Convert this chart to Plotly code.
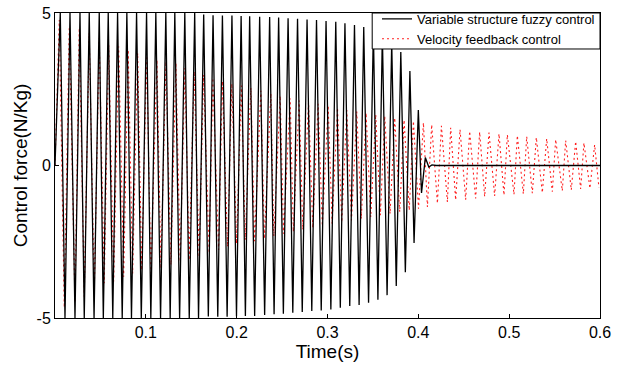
import plotly.graph_objects as go

# ---- Variable structure fuzzy control (black): peak times / values
fuzzy_up_t = [0.0058, 0.0165, 0.0275, 0.0377, 0.0487, 0.0586, 0.0689, 0.0791, 0.0898, 0.1008,
              0.1110, 0.1220, 0.1319, 0.1429, 0.1538, 0.1637, 0.1740, 0.1843, 0.1948, 0.2049,
              0.2143, 0.2253, 0.2363, 0.2462, 0.2566, 0.2670, 0.2775, 0.2879, 0.2984, 0.3091,
              0.3192, 0.3297, 0.3399, 0.3505, 0.3604, 0.3707, 0.3807, 0.3907, 0.4000, 0.4077]
fuzzy_up_v = [5.0, 5.0, 5.0, 5.0, 5.0, 5.0, 5.0, 5.0, 5.0, 5.0,
              5.0, 5.0, 5.0, 5.0, 5.0, 4.95, 4.93, 4.92, 4.92, 4.90,
              4.89, 4.88, 4.87, 4.85, 4.83, 4.81, 4.79, 4.77, 4.74, 4.71,
              4.66, 4.61, 4.54, 4.45, 4.30, 4.05, 3.72, 3.10, 1.82, 0.26]
fuzzy_down_t = [0.0110, 0.0220, 0.0322, 0.0430, 0.0532, 0.0636, 0.0740, 0.0842, 0.0950, 0.1055,
                0.1162, 0.1268, 0.1372, 0.1478, 0.1580, 0.1688, 0.1792, 0.1895, 0.1998, 0.2096,
                0.2198, 0.2308, 0.2412, 0.2514, 0.2618, 0.2722, 0.2827, 0.2931, 0.3037, 0.3141,
                0.3245, 0.3348, 0.3452, 0.3555, 0.3656, 0.3757, 0.3857, 0.3953, 0.4035]
fuzzy_down_v = [-5.0, -5.0, -5.0, -5.0, -5.0, -5.0, -5.0, -5.0, -5.0, -5.0,
                -5.0, -5.0, -5.0, -5.0, -5.0, -4.95, -4.96, -4.96, -4.94, -4.93,
                -4.93, -4.90, -4.88, -4.86, -4.83, -4.80, -4.77, -4.75, -4.72, -4.66,
                -4.61, -4.57, -4.50, -4.40, -4.25, -3.95, -3.50, -2.54, -0.90]
fuzzy_rest_t = [0.0, 0.4115, 0.4150, 0.4200, 0.6]
fuzzy_rest_v = [0.0, -0.05, 0.02, 0.0, 0.0]

# ---- Velocity feedback control (red dotted)
vel_up_t = [0.0047, 0.0157, 0.0267, 0.0377, 0.0487, 0.0591, 0.0701, 0.0806, 0.0910, 0.1009,
            0.1122, 0.1221, 0.1331, 0.1430, 0.1532, 0.1636, 0.1738, 0.1843, 0.1947, 0.2052,
            0.2156, 0.2266, 0.2376, 0.2479, 0.2589, 0.2688, 0.2791, 0.2897, 0.3007, 0.3110,
            0.3212, 0.3322, 0.3425, 0.3531, 0.3630, 0.3740, 0.3843, 0.3946, 0.4056, 0.4147,
            0.4254, 0.4356, 0.4459, 0.4565, 0.4675, 0.4778, 0.4888, 0.4980, 0.5090, 0.5193,
            0.5299, 0.5413, 0.5512, 0.5622, 0.5732, 0.5823, 0.5941]
vel_up_v = [4.77, 4.55, 4.50, 4.34, 4.18, 3.95, 3.90, 3.79, 3.68, 3.60,
            3.46, 3.40, 3.36, 3.20, 3.08, 2.97, 2.87, 2.76, 2.68, 2.62,
            2.55, 2.45, 2.36, 2.28, 2.20, 2.13, 2.07, 2.02, 1.96, 1.89,
            1.82, 1.77, 1.72, 1.67, 1.62, 1.56, 1.49, 1.45, 1.40, 1.34,
            1.30, 1.24, 1.18, 1.12, 1.10, 1.08, 1.04, 1.01, 0.98, 0.95,
            0.92, 0.88, 0.85, 0.82, 0.79, 0.74, 0.68]
vel_down_t = [0.0102, 0.0220, 0.0322, 0.0432, 0.0542, 0.0646, 0.0756, 0.0855, 0.0954, 0.1056,
              0.1166, 0.1276, 0.1378, 0.1477, 0.1587, 0.1697, 0.1801, 0.1900, 0.1999, 0.2094,
              0.2197, 0.2305, 0.2409, 0.2516, 0.2624, 0.2728, 0.2838, 0.2943, 0.3051, 0.3157,
              0.3264, 0.3372, 0.3476, 0.3582, 0.3689, 0.3795, 0.3900, 0.4002, 0.4100, 0.4210,
              0.4320, 0.4411, 0.4521, 0.4631, 0.4730, 0.4840, 0.4943, 0.5053, 0.5156, 0.5255,
              0.5365, 0.5475, 0.5585, 0.5684, 0.5787, 0.5889, 0.5988]
vel_down_v = [-4.65, -4.48, -4.30, -4.20, -3.86, -3.80, -3.65, -3.54, -3.43, -3.53,
              -3.37, -3.26, -3.15, -3.10, -3.00, -2.87, -2.77, -2.66, -2.56, -2.44,
              -2.48, -2.40, -2.32, -2.24, -2.17, -2.10, -2.04, -1.98, -1.92, -1.86,
              -1.80, -1.74, -1.69, -1.63, -1.58, -1.52, -1.47, -1.42, -1.36, -1.24,
              -1.20, -1.13, -1.12, -1.08, -1.02, -1.00, -0.97, -0.95, -0.93, -0.91,
              -0.89, -0.86, -0.83, -0.80, -0.77, -0.75, -0.72]
vel_rest_t = [0.0]
vel_rest_v = [0.0]

x_ticks = [0.1, 0.2, 0.3, 0.4, 0.5, 0.6]
y_ticks = [-5, 0, 5]


def merge(*pairs):
    pts = []
    for ts, vs in pairs:
        pts.extend(zip(ts, vs))
    pts.sort(key=lambda p: p[0])
    return [p[0] for p in pts], [p[1] for p in pts]


fx, fy = merge((fuzzy_up_t, fuzzy_up_v), (fuzzy_down_t, fuzzy_down_v), (fuzzy_rest_t, fuzzy_rest_v))
vx, vy = merge((vel_up_t, vel_up_v), (vel_down_t, vel_down_v), (vel_rest_t, vel_rest_v))

RED_DASH = "2px,3px"

fig = go.Figure()
fig.add_trace(go.Scatter(x=vx, y=vy, mode="lines", name="Velocity feedback control",
                         line=dict(color="#ff2020", width=1.1, dash=RED_DASH), showlegend=False))
fig.add_trace(go.Scatter(x=fx, y=fy, mode="lines", name="Variable structure fuzzy control",
                         line=dict(color="black", width=1.3)))
fig.add_trace(go.Scatter(x=[None], y=[None], mode="lines", name="Velocity feedback control",
                         line=dict(color="#ff2020", width=1.1, dash=RED_DASH)))

font_family = "Liberation Sans, Arial, sans-serif"
fig.update_layout(
    width=620, height=365,
    margin=dict(l=55, r=20, t=13, b=47, autoexpand=False),
    paper_bgcolor="white", plot_bgcolor="white",
    font=dict(family=font_family, size=16, color="black"),
    showlegend=True,
    legend=dict(x=1, y=1.03, xanchor="right", yanchor="top",
                bgcolor="rgba(0,0,0,0)", borderwidth=0,
                font=dict(size=13, family=font_family),
                tracegroupgap=0, itemwidth=30),
    # legend frame (white box with black border) in the top-right corner of the axes
    shapes=[dict(type="rect", xref="x domain", yref="y domain",
                 x0=0.582, x1=1.0, y0=0.882, y1=1.0,
                 line=dict(color="black", width=1), fillcolor="white", layer="above")],
    xaxis=dict(range=[0, 0.6], tickvals=x_ticks, ticktext=[str(t) for t in x_ticks],
               ticks="inside", ticklen=4, tickcolor="black", automargin=False,
               showline=True, linecolor="black", linewidth=1, mirror=True,
               showgrid=False, zeroline=False,
               title=dict(text="Time(s)", standoff=0, font=dict(size=19))),
    yaxis=dict(range=[-5, 5], tickvals=y_ticks, ticktext=["-5", "0", "5"],
               ticks="inside", ticklen=4, tickcolor="black", automargin=False,
               ticklabeloverflow="allow",
               showline=True, linecolor="black", linewidth=1, mirror=True,
               showgrid=False, zeroline=False,
               title=dict(text="Control force(N/Kg)", standoff=3, font=dict(size=19))),
)

# remove the browser's default 8px page margin so the 620x365 figure fills the window
fig.write_html("out.html", config={"displayModeBar": False},
               post_script="document.body.style.margin='0px';")
